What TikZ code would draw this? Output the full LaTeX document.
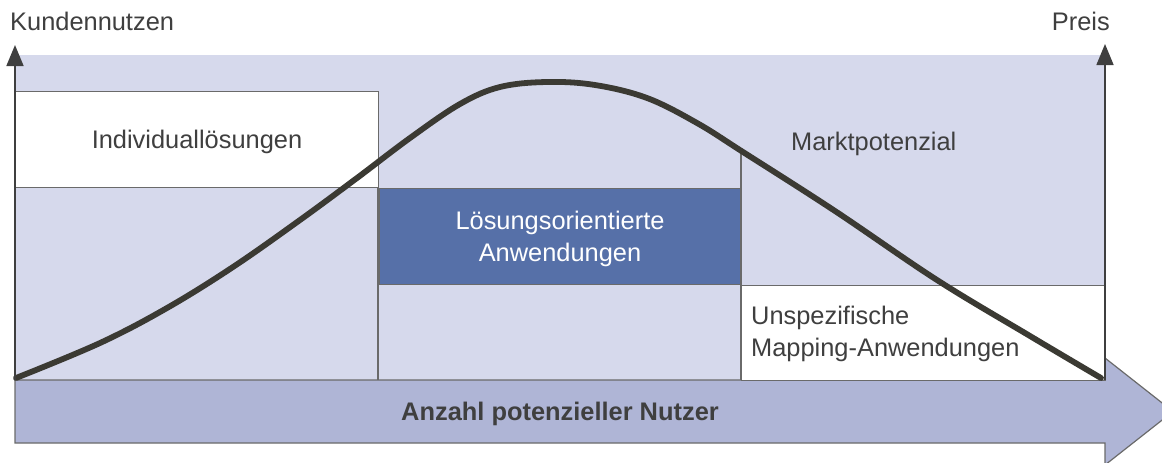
\documentclass[tikz,border=0pt]{standalone}
\usepackage{fontspec}
\setmainfont{Liberation Sans}
\usetikzlibrary{arrows.meta}
\definecolor{bgblue}{HTML}{D6D9EC}
\definecolor{arrowblue}{HTML}{AFB5D6}
\definecolor{boxblue}{HTML}{5670A8}
\definecolor{linegray}{HTML}{6A6A6A}
\definecolor{txtgray}{HTML}{3F3F3F}
\definecolor{curvecol}{HTML}{3B3A33}
\tikzset{
  cell/.style={draw=linegray, line width=1.3pt, inner sep=0pt, anchor=north west},
  lbl/.style={text=txtgray, inner sep=0pt, font=\fontsize{25.4}{31.5}\selectfont},
  axis/.style={draw=txtgray, line width=1.6pt, -{Triangle[length=21pt,width=17pt]}},
}
\begin{document}
\begin{tikzpicture}[x=1pt,y=-1pt]
\useasboundingbox (0,0) rectangle (1162,463);
% background
\fill[bgblue] (15,55) rectangle (1105,380);
% bottom arrow
\draw[fill=arrowblue, draw=linegray, line width=1.2pt]
  (15,380) -- (1105,380) -- (1105,358) -- (1173,411.5) -- (1105,465) -- (1105,443) -- (15,443) -- cycle;
\node[lbl, font=\fontsize{25.4}{31.5}\selectfont\bfseries, anchor=base] (nutzer) at (560,420) {Anzahl potenzieller Nutzer};
% boxes
\node[cell, fill=white, minimum width=363pt, minimum height=96pt] (indiv) at (15,91) {};
\node[cell, fill=boxblue, minimum width=362pt, minimum height=96pt] (loes) at (379,188) {};
\node[cell, fill=white, minimum width=364pt, minimum height=95pt] (unsp) at (741,285) {};
% grid lines
\coordinate (l1top) at (378,187);
\coordinate (l1bot) at (378,380);
\coordinate (l2top) at (741,148);
\coordinate (l2bot) at (741,380);
\draw[linegray, line width=1.3pt] (l1top) -- (l1bot);
\draw[linegray, line width=1.3pt] (l2top) -- (l2bot);
% curve
\draw[curvecol, line width=5.8pt, line cap=round] plot[smooth, tension=0.6] coordinates {
 (16,378) (100,343) (167,308) (233,267) (300,220) (357,178) (410,138) (460,104)
 (500,87) (547,82) (595,85) (647,98) (697,123) (743,152) (835,211) (937,280)
 (1030,336) (1101,378)};
% axes
\coordinate (lax0) at (15,380);
\coordinate (lax1) at (15,45);
\coordinate (rax0) at (1105,380);
\coordinate (rax1) at (1105,44);
\draw[axis] (lax0) -- (lax1);
\draw[axis] (rax0) -- (rax1);
% labels
\node[lbl, anchor=base west] (kn) at (10,30) {Kundennutzen};
\node[lbl, anchor=base east] (preis) at (1110,30) {Preis};
\node[lbl, anchor=base] (indivt) at (197,148) {Individuallösungen};
\node[lbl, text=white, align=center] (loest) at (560,239) {Lösungsorientierte\\Anwendungen};
\node[lbl, anchor=base west] (markt) at (791,150) {Marktpotenzial};
\node[lbl, align=left, anchor=west] (unspt) at (751,334) {Unspezifische\\Mapping-Anwendungen};
\end{tikzpicture}
\end{document}
